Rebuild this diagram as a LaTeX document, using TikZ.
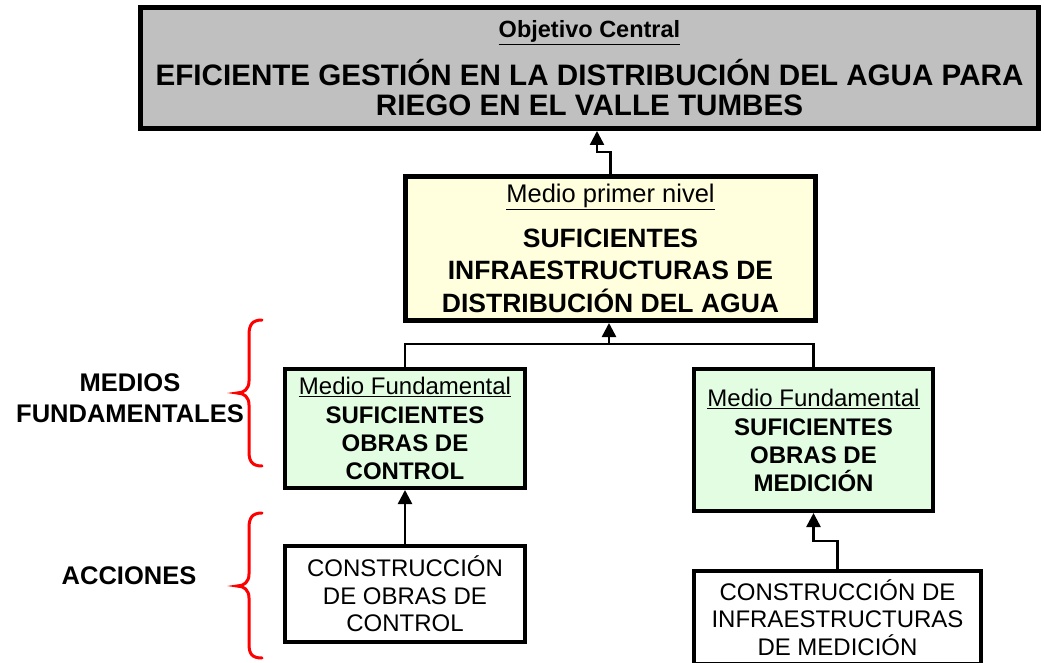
\documentclass[tikz,border=0pt]{standalone}
\usepackage{fontspec}
\setmainfont{Liberation Sans}
\usetikzlibrary{arrows.meta}
\definecolor{boxgray}{HTML}{C0C0C0}
\definecolor{boxyellow}{HTML}{FFFFDD}
\definecolor{boxgreen}{HTML}{E3FDE3}
\definecolor{bracered}{HTML}{FF0000}
\begin{document}
\begin{tikzpicture}[x=1pt,y=-1pt,
  box/.style={draw=black, line width=4pt, align=center, inner sep=0pt},
  conn/.style={line width=2.5pt, draw=black},
  arr/.style={conn, -{Triangle[length=14pt,width=14pt]}},
  brc/.style={draw=bracered, line width=3pt, line cap=round},
  lbl/.style={font=\fontsize{25.5}{31}\selectfont\bfseries, align=center, inner sep=0pt}]
\useasboundingbox (0,0) rectangle (1044,663);

\node[box, line width=5pt, fill=boxgray, minimum width=898pt, minimum height=121pt,
  font=\fontsize{29.6}{29.5}\selectfont\bfseries] (top) at (589.5,68)
  {{\fontsize{23.5}{24}\selectfont\underline{Objetivo Central}}\\[14pt]
   EFICIENTE GESTIÓN EN LA DISTRIBUCIÓN DEL AGUA PARA\\RIEGO EN EL VALLE TUMBES};

\node[box, line width=5pt, fill=boxyellow, minimum width=410pt, minimum height=144pt,
  font=\fontsize{26.5}{32.5}\selectfont\bfseries] (mid) at (610.5,248.5)
  {{\mdseries\fontsize{25.5}{26}\selectfont\underline{Medio primer nivel}}\\[12pt]
   SUFICIENTES\\INFRAESTRUCTURAS DE\\DISTRIBUCIÓN DEL AGUA};

\node[box, fill=boxgreen, minimum width=240pt, minimum height=119pt,
  font=\fontsize{24}{28}\selectfont\bfseries] (gL) at (405,428.5)
  {{\mdseries\underline{Medio Fundamental}}\\[1pt]SUFICIENTES\\OBRAS DE\\CONTROL};

\node[box, fill=boxgreen, minimum width=239pt, minimum height=142pt,
  font=\fontsize{24}{28}\selectfont\bfseries] (gR) at (813.5,440)
  {{\mdseries\underline{Medio Fundamental}}\\[1pt]SUFICIENTES\\OBRAS DE\\MEDICIÓN};

\node[box, fill=white, minimum width=240pt, minimum height=96pt,
  font=\fontsize{24}{27.5}\selectfont] (aL) at (405,594)
  {CONSTRUCCIÓN\\DE OBRAS DE\\CONTROL};

\node[box, fill=white, minimum width=287pt, minimum height=93pt,
  font=\fontsize{24}{27.5}\selectfont] (aR) at (837.5,617.5)
  {CONSTRUCCIÓN DE\\INFRAESTRUCTURAS\\DE MEDICIÓN};

\node[lbl] (lblMF) at (130,398) {MEDIOS\\FUNDAMENTALES};
\node[lbl] (lblAC) at (129,576) {ACCIONES};

\draw[brc] (262,320) .. controls (252,320) and (249,325) .. (249,335) -- (249,381)
  .. controls (249,389) and (244,393) .. (237,393)
  .. controls (244,393) and (249,397) .. (249,405) -- (249,452)
  .. controls (249,461) and (252,466) .. (262,466);
\draw[brc] (262,513) .. controls (252,513) and (249,518) .. (249,528) -- (249,574)
  .. controls (249,582) and (244,586) .. (237,586)
  .. controls (244,586) and (249,590) .. (249,598) -- (249,644)
  .. controls (249,654) and (252,658) .. (262,658);

\draw[arr] (mid.north) -- ++(0,-22) -| ([xshift=7.5pt]top.south);
\coordinate (bar) at (609,344);
\draw[conn] (gL.north) |- (bar) -| (gR.north);
\draw[arr] (bar) -- (bar |- mid.south);
\draw[arr] (aL.north) -- (gL.south);
\draw[arr] (aR.north) -- ++(0,-28) -| (gR.south);
\end{tikzpicture}
\end{document}
